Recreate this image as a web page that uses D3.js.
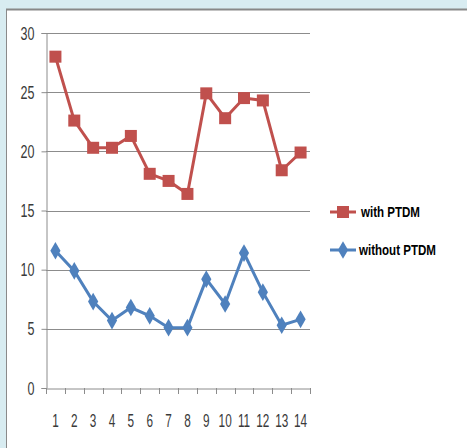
<!DOCTYPE html>
<html>
<head>
<meta charset="utf-8">
<script src="https://cdn.jsdelivr.net/npm/d3@7"></script>
<style>
  body { margin: 0; background: #d8ecf1; }
  svg { display: block; }
</style>
</head>
<body>
<script>
const categories = [1, 2, 3, 4, 5, 6, 7, 8, 9, 10, 11, 12, 13, 14];
const withPTDM = [28, 22.6, 20.3, 20.3, 21.3, 18.1, 17.5, 16.4, 24.9, 22.8, 24.5, 24.3, 18.4, 19.9];
const withoutPTDM = [11.6, 9.9, 7.3, 5.7, 6.8, 6.1, 5.1, 5.1, 9.2, 7.1, 11.4, 8.1, 5.3, 5.8];
const yTicks = [0, 5, 10, 15, 20, 25, 30];

const width = 467, height = 448;
const svg = d3.select("body").append("svg")
    .attr("width", width)
    .attr("height", height);

// white panel
svg.append("rect")
    .attr("x", 6.5).attr("y", 9.5)
    .attr("width", width).attr("height", height)
    .attr("fill", "#fff")
    .attr("stroke", "#8a8a8a")
    .attr("stroke-width", 1);
svg.append("line")
    .attr("x1", 6).attr("x2", width)
    .attr("y1", 9.5).attr("y2", 9.5)
    .attr("stroke", "#888").attr("stroke-width", 2);

const x = d3.scaleBand().domain(categories).range([46, 310]);
const y = d3.scaleLinear().domain([0, 30]).range([388, 33]);

const tickFont = "'Liberation Sans', sans-serif";
// squeeze text horizontally to mimic the narrow face of the original
const narrow = (sel, s) => sel
    .attr("x", function() { return (+this.getAttribute("x") || 0) / s; })
    .attr("transform", `scale(${s},1)`);

// gridlines
svg.append("g")
  .selectAll("line")
  .data(yTicks.slice(1))
  .join("line")
    .attr("x1", 46).attr("x2", 310)
    .attr("y1", d => Math.round(y(d)) + 0.5)
    .attr("y2", d => Math.round(y(d)) + 0.5)
    .attr("stroke", "#8c8c8c");

// y axis
const yAxis = svg.append("g")
    .attr("transform", "translate(46.5,0)")
    .call(d3.axisLeft(y).tickValues(yTicks).tickSize(5).tickPadding(7));
yAxis.select(".domain").attr("stroke", "#8c8c8c");
yAxis.selectAll(".tick line").attr("stroke", "#8c8c8c");
yAxis.selectAll("text")
    .attr("font-family", tickFont)
    .attr("font-size", 19)
    .attr("fill", "#3a3a3a")
    .call(narrow, 0.66);

// x axis
const xAxis = svg.append("g")
    .attr("transform", "translate(0,388.5)")
    .call(d3.axisBottom(x).tickSize(0).tickPadding(25));
xAxis.select(".domain").attr("stroke", "#8c8c8c");
xAxis.selectAll("text")
    .attr("font-family", tickFont)
    .attr("font-size", 19)
    .attr("fill", "#3a3a3a")
    .call(narrow, 0.62);
// tick marks at band boundaries
svg.append("g")
  .selectAll("line")
  .data(categories.concat([null]))
  .join("line")
    .attr("x1", (d, i) => Math.round(46 + i * x.bandwidth()) + 0.5)
    .attr("x2", (d, i) => Math.round(46 + i * x.bandwidth()) + 0.5)
    .attr("y1", 388).attr("y2", 394)
    .attr("stroke", "#8c8c8c");

const cx = d => x(d) + x.bandwidth() / 2;
const line = d3.line()
    .x((d, i) => cx(categories[i]))
    .y(d => y(d));

const red = "#c0504d", blue = "#4f81bd";

// with PTDM
svg.append("path")
    .datum(withPTDM)
    .attr("fill", "none")
    .attr("stroke", red)
    .attr("stroke-width", 3)
    .attr("d", line);
svg.append("g")
  .selectAll("rect")
  .data(withPTDM)
  .join("rect")
    .attr("x", (d, i) => cx(categories[i]) - 6)
    .attr("y", d => y(d) - 6)
    .attr("width", 12).attr("height", 12)
    .attr("fill", red);

// without PTDM
const diamond = d3.symbol().type(d3.symbolDiamond).size(90);
svg.append("path")
    .datum(withoutPTDM)
    .attr("fill", "none")
    .attr("stroke", blue)
    .attr("stroke-width", 3)
    .attr("d", line);
svg.append("g")
  .selectAll("path")
  .data(withoutPTDM)
  .join("path")
    .attr("transform", (d, i) => `translate(${cx(categories[i])},${y(d)})`)
    .attr("d", diamond)
    .attr("fill", blue);

// legend
const legendFont = "'Liberation Sans', sans-serif";
const lg1 = svg.append("g").attr("transform", "translate(330,212)");
lg1.append("line").attr("x1", 0).attr("x2", 26).attr("stroke", red).attr("stroke-width", 3);
lg1.append("rect").attr("x", 7).attr("y", -6).attr("width", 12).attr("height", 12).attr("fill", red);
lg1.append("text").attr("x", 31).attr("y", 5)
    .attr("font-family", legendFont).attr("font-weight", "bold").attr("font-size", 15)
    .text("with PTDM")
    .call(narrow, 0.77);

const lg2 = svg.append("g").attr("transform", "translate(330,250)");
lg2.append("line").attr("x1", 0).attr("x2", 26).attr("stroke", blue).attr("stroke-width", 3);
lg2.append("path").attr("transform", "translate(13,0)").attr("d", diamond).attr("fill", blue);
lg2.append("text").attr("x", 29).attr("y", 5)
    .attr("font-family", legendFont).attr("font-weight", "bold").attr("font-size", 15)
    .text("without PTDM")
    .call(narrow, 0.77);
</script>
</body>
</html>
